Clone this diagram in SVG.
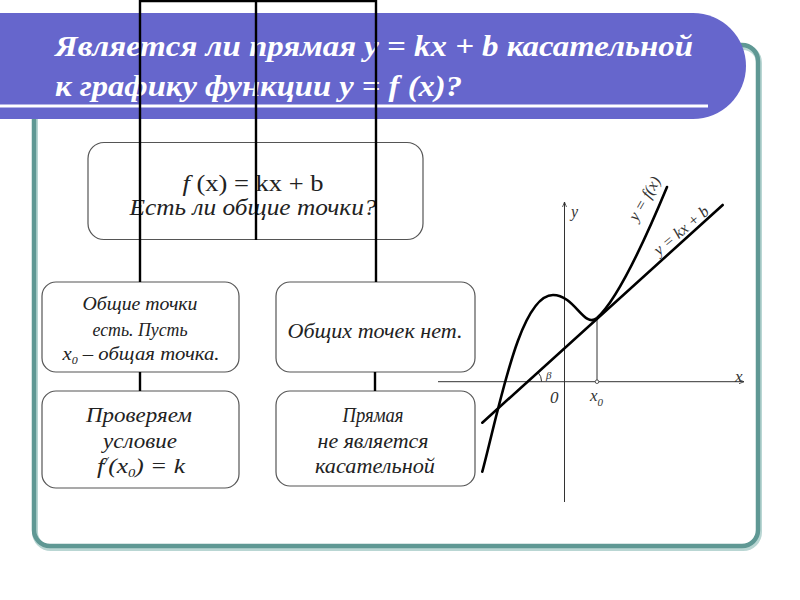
<svg xmlns="http://www.w3.org/2000/svg" width="800" height="600" viewBox="0 0 800 600">
<defs>
<style>
.box{fill:#fff;stroke:#555;stroke-width:1.2}
.t{font-family:"Liberation Serif","Times New Roman",serif;fill:#222;text-anchor:middle;font-style:italic}
.conn{stroke:#000;stroke-width:2.4;fill:none}
.thin{stroke:#333;stroke-width:1;fill:none}
.thick{stroke:#000;stroke-width:2.6;fill:none;stroke-linecap:round}
.g{font-family:"Liberation Serif","Times New Roman",serif;font-style:italic;fill:#333}
</style>
<marker id="ar" markerWidth="6" markerHeight="6" refX="5" refY="3" orient="auto" markerUnits="userSpaceOnUse">
<path d="M0,1 L5,3 L0,5" fill="none" stroke="#333" stroke-width="0.8"/>
</marker>
</defs>
<rect width="800" height="600" fill="#fff"/>
<!-- frame -->
<rect x="34" y="45" width="724" height="501" rx="16" fill="none" stroke="#b9d6d3" stroke-width="6" transform="translate(1,2)"/>
<rect x="34" y="45" width="724" height="501" rx="16" fill="none" stroke="#5f9894" stroke-width="4.5"/>
<!-- banner -->
<path d="M0,13 H693 A53,53 0 0 1 693,119 H0 Z" fill="#6666cc"/>
<rect x="0" y="104.5" width="708" height="3" fill="#fff"/>
<text x="55" y="56" font-family="'Liberation Serif','Times New Roman',serif" font-style="italic" font-weight="bold" font-size="30" fill="#fff" textLength="638" lengthAdjust="spacingAndGlyphs">Является ли прямая y = kx + b касательной</text>
<text x="55" y="96" font-family="'Liberation Serif','Times New Roman',serif" font-style="italic" font-weight="bold" font-size="30" fill="#fff" textLength="407" lengthAdjust="spacingAndGlyphs">к графику функции y = f (x)?</text>
<!-- nodes -->
<g id="top">
<rect class="box" x="88" y="142.5" width="335" height="97" rx="16"/>
<text class="t" x="253" y="191" font-size="23" style="font-style:normal" textLength="141" lengthAdjust="spacingAndGlyphs"><tspan style="font-style:italic">f</tspan> (x) = kx + b</text>
<text class="t" x="253" y="215" font-size="23" textLength="247" lengthAdjust="spacingAndGlyphs">Есть ли общие точки?</text>
</g>
<g id="common">
<rect class="box" x="42" y="282" width="197" height="90" rx="14"/>
<text class="t" x="140" y="310" font-size="19" textLength="115" lengthAdjust="spacingAndGlyphs">Общие точки</text>
<text class="t" x="140" y="336" font-size="19" textLength="95" lengthAdjust="spacingAndGlyphs">есть. Пусть</text>
<text class="t" x="141" y="360" font-size="19" textLength="157" lengthAdjust="spacingAndGlyphs">x<tspan font-size="11" dy="4">0</tspan><tspan dy="-4"> – общая точка.</tspan></text>
</g>
<g id="nocommon">
<rect class="box" x="276" y="282" width="199" height="90" rx="14"/>
<text class="t" x="375" y="338" font-size="21" textLength="175" lengthAdjust="spacingAndGlyphs">Общих точек нет.</text>
</g>
<g id="check">
<rect class="box" x="42" y="391" width="197" height="97" rx="14"/>
<text class="t" x="139" y="422" font-size="21" textLength="106" lengthAdjust="spacingAndGlyphs">Проверяем</text>
<text class="t" x="140" y="448" font-size="21" textLength="74" lengthAdjust="spacingAndGlyphs">условие</text>
<text class="t" x="141" y="473" font-size="21" textLength="88" lengthAdjust="spacingAndGlyphs">f<tspan font-size="12" dy="-8">/</tspan><tspan dy="8">(x</tspan><tspan font-size="12" dy="4">0</tspan><tspan dy="-4">) = k</tspan></text>
</g>
<g id="notangent">
<rect class="box" x="276" y="391" width="199" height="95" rx="14"/>
<text class="t" x="373" y="422" font-size="21" textLength="61" lengthAdjust="spacingAndGlyphs">Прямая</text>
<text class="t" x="373" y="448" font-size="21" textLength="111" lengthAdjust="spacingAndGlyphs">не является</text>
<text class="t" x="375" y="473" font-size="21" textLength="120" lengthAdjust="spacingAndGlyphs">касательной</text>
</g>
<!-- connectors -->
<g id="connectors">
<path class="conn" d="M140,282 V1 H376 V282"/>
<path class="conn" d="M256,1 V240"/>
<path class="conn" d="M140,372 V391"/>
<path class="conn" d="M375,372 V391"/>
</g>
<!-- graph -->
<g id="graph">
<line class="thin" x1="564.5" y1="502" x2="564.5" y2="202" marker-end="url(#ar)"/>
<line class="thin" x1="438" y1="381.7" x2="744" y2="381.7" marker-end="url(#ar)"/>
<line class="thin" x1="597" y1="318" x2="597" y2="381.7"/>
<circle cx="597" cy="381.7" r="1.8" fill="#fff" stroke="#333" stroke-width="0.8"/>
<path class="thin" d="M541.6,381.7 A14,14 0 0 0 538,372.3"/>
<line class="thick" x1="482.3" y1="422.7" x2="722.7" y2="205"/>
<path class="thick" d="M482.3,471.7 C500,405 520,295 553,295 C575,295 584,329 597,318 C617,300 645,240 667,187"/>
<text class="g" x="571" y="217" font-size="16">y</text>
<text class="g" x="735" y="382" font-size="17">x</text>
<text class="g" x="550" y="403" font-size="17">0</text>
<text class="g" x="590" y="401" font-size="17">x<tspan font-size="11" dy="5">0</tspan></text>
<text class="g" x="546" y="379" font-size="11">β</text>
<text class="g" x="637" y="222" font-size="16" transform="rotate(-60 637 222)">y = f(x)</text>
<text class="g" x="659" y="256" font-size="16" transform="rotate(-40 659 256)">y = kx + b</text>
</g>
</svg>
